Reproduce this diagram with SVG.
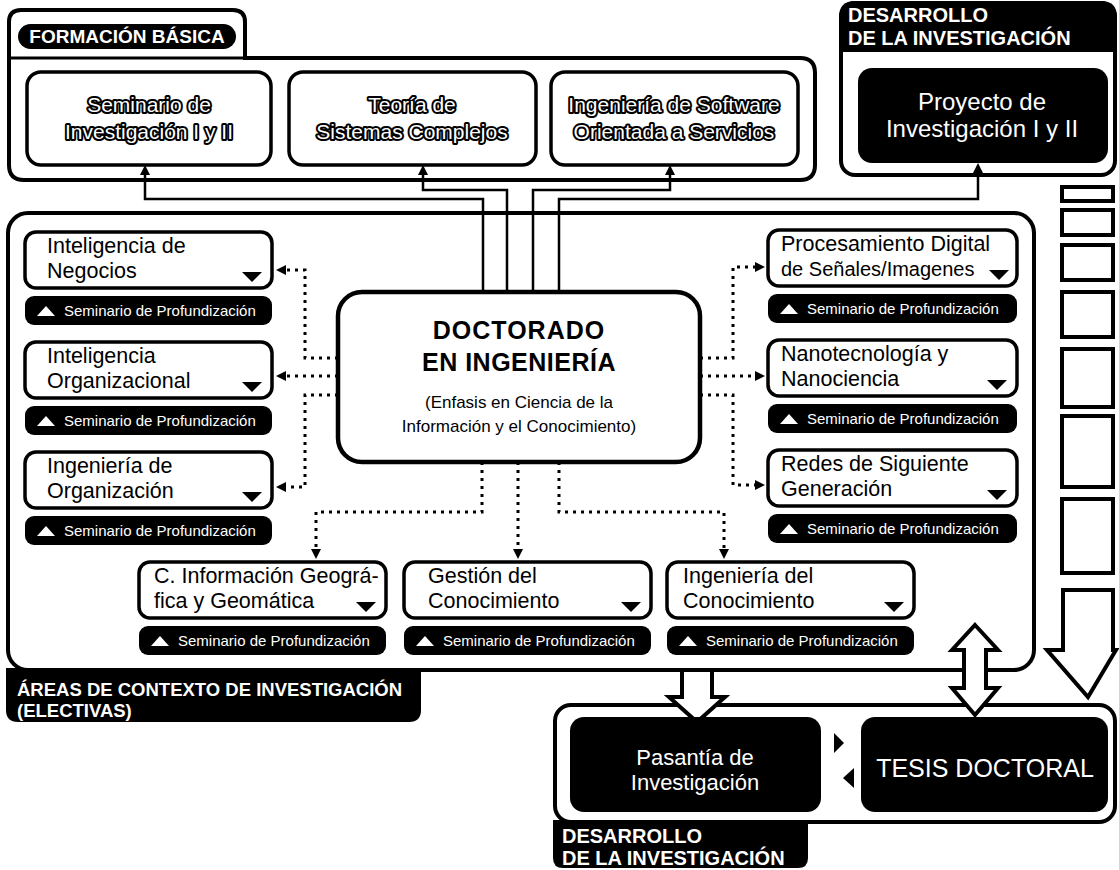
<svg xmlns="http://www.w3.org/2000/svg" width="1119" height="870" viewBox="0 0 1119 870">
<defs>
<style>
text{font-family:"Liberation Sans",Arial,sans-serif}
.frame{fill:none;stroke:#000;stroke-width:4}
.wframe{fill:#fff;stroke:#000;stroke-width:4}
.box{fill:#fff;stroke:#000;stroke-width:3.5}
.bar{fill:#000}
.lbl{font-size:21.5px;fill:#000}
.sem{font-size:15px;fill:#fff}
.tri{fill:#000}
.wtri{fill:#fff}
.fb{font-size:21px;fill:#fff;stroke:#000;stroke-width:4;paint-order:stroke;stroke-linejoin:round;text-anchor:middle}
.solid{fill:none;stroke:#000;stroke-width:2.5}
.dot{fill:none;stroke:#000;stroke-width:3;stroke-dasharray:3 5}
.dark{fill:#000}
.wt{fill:#fff}
.hdr{fill:#fff;font-weight:bold;font-size:20px}
.big{fill:#fff;stroke:#000;stroke-width:4;stroke-linejoin:miter}
.sq{fill:#fff;stroke:#000;stroke-width:4}
</style>
<marker id="ah" viewBox="0 0 10 10" refX="1" refY="5" markerWidth="10" markerHeight="10" markerUnits="userSpaceOnUse" orient="auto"><path d="M0,0 L10,5 L0,10 z" fill="#000"/></marker>
</defs>
<rect width="1119" height="870" fill="#fff"/>

<!-- containers -->
<g id="formacion-basica">
<path class="frame" d="M9,165 V22 Q9,10 21,10 H233 Q245,10 245,22 V58 H800 Q815,58 815,73 V165 Q815,180 800,180 H24 Q9,180 9,165 Z"/>
<line x1="9" y1="58" x2="245" y2="58" stroke="#000" stroke-width="3"/>
<rect x="18" y="24" width="218" height="25" rx="12.5" class="dark"/>
<text x="127" y="43" text-anchor="middle" class="hdr" style="font-size:19px">FORMACIÓN BÁSICA</text>
</g>

<g id="desarrollo-top">
<rect x="841" y="3" width="274" height="172" rx="14" class="wframe"/>
<path class="dark" d="M839,52 V17 Q839,1 855,1 H1101 Q1117,1 1117,17 V52 Z"/>
<text x="848" y="22" class="hdr">DESARROLLO</text>
<text x="848" y="45" class="hdr">DE LA INVESTIGACIÓN</text>
</g>

<g id="areas-contexto">
<rect x="8" y="213" width="1026" height="457" rx="20" class="frame"/>
<path class="dark" d="M6,668 H421 V710 Q421,722 409,722 H18 Q6,722 6,710 Z"/>
<text x="17" y="696" class="hdr" style="font-size:18.5px">ÁREAS DE CONTEXTO DE INVESTIGACIÓN</text>
<text x="17" y="717" class="hdr" style="font-size:18.5px">(ELECTIVAS)</text>
</g>

<g id="desarrollo-bottom">
<rect x="555" y="705" width="560" height="117" rx="16" class="wframe"/>
<path class="dark" d="M553,820 H808 V858 Q808,868 798,868 H563 Q553,868 553,858 Z"/>
<text x="562" y="843" class="hdr">DESARROLLO</text>
<text x="562" y="865" class="hdr">DE LA INVESTIGACIÓN</text>
</g>

<!-- connectors -->
<g id="connectors">
<path class="solid" d="M483,292 V199 H145 V174" marker-end="url(#ah)"/>
<path class="solid" d="M507,292 V190 H423 V174" marker-end="url(#ah)"/>
<path class="solid" d="M533,292 V190 H670 V174" marker-end="url(#ah)"/>
<path class="solid" d="M559,292 V199 H978 V172" marker-end="url(#ah)"/>
<path class="dot" d="M338,358 H305 V270 H285" marker-end="url(#ah)"/>
<path class="dot" d="M338,376 H285" marker-end="url(#ah)"/>
<path class="dot" d="M338,395 H305 V487 H285" marker-end="url(#ah)"/>
<path class="dot" d="M700,358 H733 V267 H756" marker-end="url(#ah)"/>
<path class="dot" d="M700,376 H756" marker-end="url(#ah)"/>
<path class="dot" d="M700,395 H733 V485 H756" marker-end="url(#ah)"/>
<path class="dot" d="M482,462 V512 H316 V550" marker-end="url(#ah)"/>
<path class="dot" d="M518,462 V550" marker-end="url(#ah)"/>
<path class="dot" d="M559,462 V512 H724 V550" marker-end="url(#ah)"/>
<polygon class="big" points="682,670 712,670 712,697 725,697 697,722 669,697 682,697"/>
<polygon class="big" points="975,625 998,650 986,650 986,688 998,688 975,715 952,688 964,688 964,650 952,650"/>
<polygon class="dark" points="834,733 844,743 834,753"/>
<polygon class="dark" points="854,768 843,778 854,788"/>
</g>

<!-- top nodes -->
<g id="n-seminario">
<rect x="27" y="72" width="244" height="93" rx="14" class="box" stroke-width="4"/>
<text x="149" y="112" class="fb">Seminario de</text>
<text x="149" y="139" class="fb">Investigación I y II</text>
</g>
<g id="n-teoria">
<rect x="289" y="72" width="247" height="93" rx="14" class="box" stroke-width="4"/>
<text x="412" y="112" class="fb">Teoría de</text>
<text x="412" y="139" class="fb">Sistemas Complejos</text>
</g>
<g id="n-software">
<rect x="551" y="72" width="247" height="93" rx="14" class="box" stroke-width="4"/>
<text x="674" y="112" class="fb">Ingeniería de Software</text>
<text x="674" y="139" class="fb">Orientada a Servicios</text>
</g>
<g id="n-proyecto">
<rect x="858" y="68" width="250" height="95" rx="14" class="dark"/>
<text x="982" y="110" text-anchor="middle" class="wt" font-size="24">Proyecto de</text>
<text x="982" y="137" text-anchor="middle" class="wt" font-size="24">Investigación I y II</text>
</g>

<!-- center -->
<g id="n-doctorado">
<rect x="338" y="292" width="362" height="170" rx="24" fill="#fff" stroke="#000" stroke-width="4.5"/>
<text x="519" y="339" text-anchor="middle" font-size="25" font-weight="bold" letter-spacing="1">DOCTORADO</text>
<text x="519" y="371" text-anchor="middle" font-size="25" font-weight="bold" letter-spacing="0.5">EN INGENIERÍA</text>
<text x="519" y="408" text-anchor="middle" font-size="17">(Enfasis en Ciencia de la</text>
<text x="519" y="432" text-anchor="middle" font-size="17">Información y el Conocimiento)</text>
</g>

<!-- left column -->
<g id="n-negocios">
<rect x="25" y="232" width="247" height="56" rx="11" class="box"/>
<text x="47" y="253" class="lbl">Inteligencia de</text>
<text x="47" y="278" class="lbl">Negocios</text>
<polygon class="tri" points="242,272 262,272 252,282"/>
<rect x="25" y="296" width="247" height="29" rx="9" class="bar"/>
<polygon class="wtri" points="37,316 55,316 46,306"/>
<text x="64" y="316" class="sem">Seminario de Profundización</text>
</g>
<g id="n-organizacional">
<rect x="25" y="342" width="247" height="56" rx="11" class="box"/>
<text x="47" y="363" class="lbl">Inteligencia</text>
<text x="47" y="388" class="lbl">Organizacional</text>
<polygon class="tri" points="242,382 262,382 252,392"/>
<rect x="25" y="406" width="247" height="29" rx="9" class="bar"/>
<polygon class="wtri" points="37,426 55,426 46,416"/>
<text x="64" y="426" class="sem">Seminario de Profundización</text>
</g>
<g id="n-ing-organizacion">
<rect x="25" y="452" width="247" height="56" rx="11" class="box"/>
<text x="47" y="473" class="lbl">Ingeniería de</text>
<text x="47" y="498" class="lbl">Organización</text>
<polygon class="tri" points="242,492 262,492 252,502"/>
<rect x="25" y="516" width="247" height="29" rx="9" class="bar"/>
<polygon class="wtri" points="37,536 55,536 46,526"/>
<text x="64" y="536" class="sem">Seminario de Profundización</text>
</g>

<!-- right column -->
<g id="n-procesamiento">
<rect x="768" y="230" width="249" height="56" rx="11" class="box"/>
<text x="781" y="251" class="lbl">Procesamiento Digital</text>
<text x="781" y="276" class="lbl" style="font-size:20px">de Señales/Imagenes</text>
<polygon class="tri" points="989,270 1009,270 999,280"/>
<rect x="768" y="294" width="249" height="29" rx="9" class="bar"/>
<polygon class="wtri" points="780,314 798,314 789,304"/>
<text x="807" y="314" class="sem">Seminario de Profundización</text>
</g>
<g id="n-nanotecnologia">
<rect x="768" y="340" width="249" height="56" rx="11" class="box"/>
<text x="781" y="361" class="lbl">Nanotecnología y</text>
<text x="781" y="386" class="lbl">Nanociencia</text>
<polygon class="tri" points="987,380 1007,380 997,390"/>
<rect x="768" y="404" width="249" height="29" rx="9" class="bar"/>
<polygon class="wtri" points="780,424 798,424 789,414"/>
<text x="807" y="424" class="sem">Seminario de Profundización</text>
</g>
<g id="n-redes">
<rect x="768" y="450" width="249" height="56" rx="11" class="box"/>
<text x="781" y="471" class="lbl">Redes de Siguiente</text>
<text x="781" y="496" class="lbl">Generación</text>
<polygon class="tri" points="987,490 1007,490 997,500"/>
<rect x="768" y="514" width="249" height="29" rx="9" class="bar"/>
<polygon class="wtri" points="780,534 798,534 789,524"/>
<text x="807" y="534" class="sem">Seminario de Profundización</text>
</g>

<!-- bottom row -->
<g id="n-geografica">
<rect x="139" y="562" width="247" height="56" rx="11" class="box"/>
<text x="154" y="583" class="lbl">C. Información Geográ-</text>
<text x="154" y="608" class="lbl">fica y Geomática</text>
<polygon class="tri" points="356,602 376,602 366,612"/>
<rect x="139" y="626" width="247" height="29" rx="9" class="bar"/>
<polygon class="wtri" points="151,646 169,646 160,636"/>
<text x="178" y="646" class="sem">Seminario de Profundización</text>
</g>
<g id="n-gestion">
<rect x="404" y="562" width="247" height="56" rx="11" class="box"/>
<text x="428" y="583" class="lbl">Gestión del</text>
<text x="428" y="608" class="lbl">Conocimiento</text>
<polygon class="tri" points="621,602 641,602 631,612"/>
<rect x="404" y="626" width="247" height="29" rx="9" class="bar"/>
<polygon class="wtri" points="416,646 434,646 425,636"/>
<text x="443" y="646" class="sem">Seminario de Profundización</text>
</g>
<g id="n-ing-conocimiento">
<rect x="667" y="562" width="247" height="56" rx="11" class="box"/>
<text x="683" y="583" class="lbl">Ingeniería del</text>
<text x="683" y="608" class="lbl">Conocimiento</text>
<polygon class="tri" points="884,602 904,602 894,612"/>
<rect x="667" y="626" width="247" height="29" rx="9" class="bar"/>
<polygon class="wtri" points="679,646 697,646 688,636"/>
<text x="706" y="646" class="sem">Seminario de Profundización</text>
</g>

<!-- bottom nodes -->
<g id="n-pasantia">
<rect x="570" y="717" width="251" height="95" rx="14" class="dark"/>
<text x="695" y="765" text-anchor="middle" class="wt" font-size="22">Pasantía de</text>
<text x="695" y="790" text-anchor="middle" class="wt" font-size="22">Investigación</text>
</g>
<g id="n-tesis">
<rect x="861" y="717" width="247" height="95" rx="14" class="dark"/>
<text x="985" y="777" text-anchor="middle" class="wt" font-size="25">TESIS DOCTORAL</text>
</g>

<!-- progress column -->
<g id="progress">
<rect class="sq" x="1062" y="187" width="51" height="14"/>
<rect class="sq" x="1062" y="210" width="51" height="25"/>
<rect class="sq" x="1062" y="245" width="51" height="35"/>
<rect class="sq" x="1062" y="292" width="51" height="45"/>
<rect class="sq" x="1062" y="349" width="51" height="58"/>
<rect class="sq" x="1062" y="416" width="51" height="71"/>
<rect class="sq" x="1062" y="499" width="51" height="74"/>
<polygon class="big" points="1063,590 1113,590 1113,650 1116,650 1088,697 1047,650 1063,650"/>
</g>
</svg>
